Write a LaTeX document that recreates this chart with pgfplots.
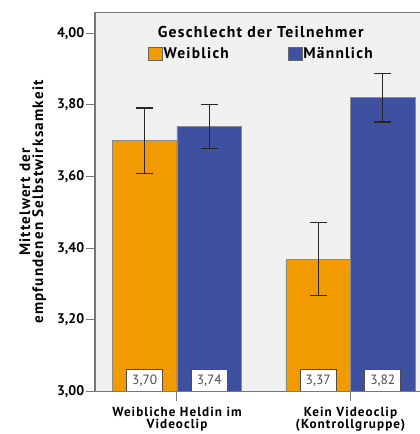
\documentclass[border=0pt]{standalone}
\usepackage{fontspec}
\setmainfont{PT Sans}
\newfontfamily\wide[LetterSpace=8]{PT Sans}
\usepackage{pgfplots}
\pgfplotsset{compat=1.18}

\definecolor{weib}{RGB}{241,155,0}
\definecolor{mann}{RGB}{62,81,160}
\definecolor{bg}{RGB}{240,240,240}
\definecolor{axgray}{RGB}{120,120,120}

\begin{document}
\begin{tikzpicture}
\begin{axis}[
  scale only axis,
  width=325bp, height=379.4bp,
  xmin=-0.4726, xmax=1.4006,
  ymin=3, ymax=4.058,
  axis background/.style={fill=bg},
  axis line style={draw=none},
  tick align=outside,
  major tick length=9bp,
  tick style={axgray, line width=1bp},
  ytick={3,3.2,3.4,3.6,3.8,4},
  yticklabels={{3,00},{3,20},{3,40},{3,60},{3,80},{4,00}},
  ytick pos=left,
  yticklabel style={font=\fontsize{14}{15}\selectfont\bfseries, inner sep=1.5bp},
  xtick={0,1},
  xticklabels={{Weibliche Heldin im\\Videoclip},{Kein Videoclip\\(Kontrollgruppe)}},
  xtick pos=bottom,
  xticklabel style={align=center, inner sep=1bp, yshift=-5bp,
    font=\wide\fontsize{13.2}{12.3}\selectfont\bfseries},
  ylabel={Mittelwert der\\empfundenen Selbstwirksamkeit},
  ylabel style={align=center, font=\wide\fontsize{15.2}{13}\selectfont\bfseries, yshift=6bp},
  legend style={at={(rel axis cs:0.163,0.89)}, anchor=west, draw=none, fill=none,
    inner sep=0pt, font=\wide\fontsize{15.5}{17}\selectfont\bfseries, legend columns=2,
    /tikz/every even column/.style={column sep=58bp},
    nodes={inner sep=1bp}},
  legend image code/.code={\draw[#1, draw=black!60, line width=0.5bp] (0bp,-6.5bp) rectangle (14bp,6.5bp);},
  error bars/error bar style={black!85, line width=1.2bp},
  error bars/error mark options={rotate=90, mark size=8.5bp, line width=1.2bp, black!85},
]
\addplot[ybar, bar width=0.372, bar shift=0, fill=weib, draw=black!45, line width=0.4bp,
  error bars/.cd, y dir=both, y explicit]
  coordinates {(-0.186,3.70) +- (0,0.091) (0.814,3.37) +- (0,0.102)};
\addplot[ybar, bar width=0.372, bar shift=0, fill=mann, draw=black!45, line width=0.4bp,
  error bars/.cd, y dir=both, y explicit]
  coordinates {(0.186,3.74) +- (0,0.061) (1.186,3.82) +- (0,0.068)};
\legend{Weiblich, Männlich}

\addplot[draw=none, forget plot, nodes near coords, point meta=explicit symbolic,
  nodes near coords style={anchor=south, fill=white, draw=black!70, line width=0.6bp,
    minimum width=36bp, minimum height=22bp, inner sep=1bp, text=black!70,
    font=\fontsize{13.5}{14}\selectfont}]
  coordinates {(-0.186,3) [3,70] (0.186,3) [3,74] (0.814,3) [3,37] (1.186,3) [3,82]};

\node[font=\wide\fontsize{15.8}{17}\selectfont\bfseries] at (rel axis cs:0.51,0.948) {Geschlecht der Teilnehmer};

\coordinate (sw) at (rel axis cs:0,0);
\coordinate (se) at (rel axis cs:1,0);
\coordinate (nw) at (rel axis cs:0,1);
\coordinate (ne) at (rel axis cs:1,1);
\end{axis}
\draw[axgray, line width=1.2bp] (ne) -- (nw) -- (sw) -- (se);
\pgfresetboundingbox
\path ([xshift=-95bp, yshift=-42.3bp]sw) rectangle ([yshift=12.3bp]ne);
\end{tikzpicture}
\end{document}
